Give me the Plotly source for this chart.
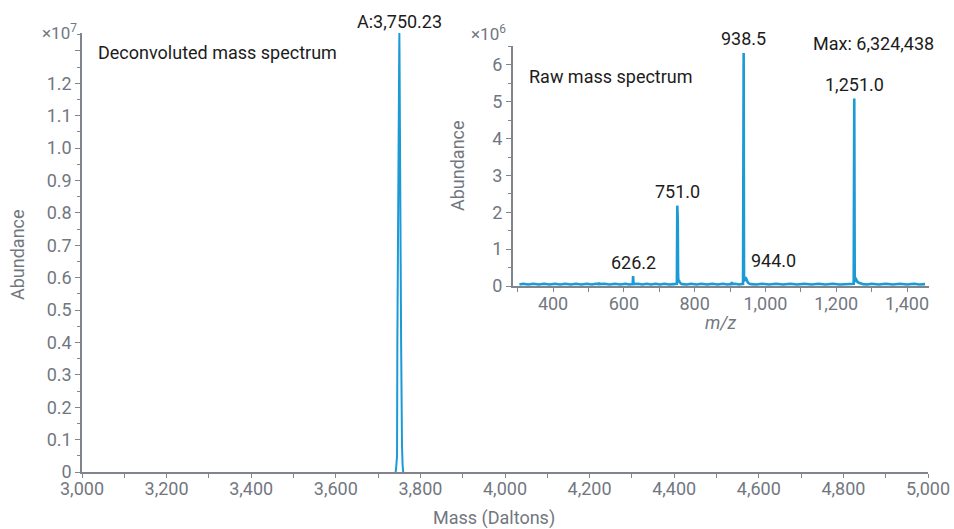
import plotly.graph_objects as go

# ---------------- data ----------------
# Deconvoluted spectrum (Mass in Daltons, abundance)
decon_mass = [3741.3, 3742.5, 3744.8, 3745.5, 3749.9, 3750.23, 3750.6, 3754.4, 3755.0, 3756.5, 3758.0, 3759.3]
decon_abund = [0, 1.0e5, 5.0e5, 4.0e6, 1.30e7, 1.355e7, 1.30e7, 4.0e6, 1.0e6, 8.0e5, 2.0e5, 0]

# Raw spectrum (m/z, abundance)
raw_mz = [305, 315, 330, 345, 360, 375, 390, 405, 420, 435, 450, 465, 480, 495, 510, 520, 528, 529.5, 531,
          545, 560, 575, 590, 605, 615, 625.0, 626.2, 627.4,
          640, 652, 665, 677, 690, 702, 715, 728, 740, 749.8, 751.0, 752.4, 753.2, 754.2, 755.5, 757.0, 759.0, 762.0, 766,
          778, 790, 805, 820, 835, 850, 865, 880, 892, 903.5, 905.0, 906.5, 915, 925, 936.8, 938.5, 939.6, 941.0, 942.5,
          944.0, 945.5, 947.5, 950.0, 953.0, 960, 975, 990, 1010, 1030, 1050, 1070, 1090, 1110, 1130, 1150, 1170,
          1190, 1210, 1230, 1249.4, 1251.0, 1252.3, 1253.5, 1255.0, 1257.0, 1260.0, 1264.0, 1270.0, 1276, 1288,
          1300, 1320, 1340, 1360, 1380, 1400, 1420, 1435, 1451]
raw_abund = [4e4, 6e4, 4e4, 6e4, 4e4, 6e4, 4e4, 6e4, 4e4, 6e4, 4e4, 6e4, 4e4, 6e4, 4e4, 6e4, 5e4, 9e4, 5e4,
             6e4, 4e4, 6e4, 4e4, 6e4, 4e4, 5e4, 2.7e5, 5e4,
             6e4, 4e4, 6e4, 4e4, 6e4, 4e4, 6e4, 4e4, 5e4, 6e4, 2.18e6, 1.75e6, 3.0e5, 1.2e5, 1.6e5, 1.1e5, 9e4, 6e4, 5e4,
             4e4, 6e4, 4e4, 6e4, 4e4, 6e4, 4e4, 6e4, 4e4, 5e4, 1.1e5, 5e4, 6e4, 4e4, 6e4, 6.324438e6, 1.2e5, 1.8e5, 2.2e5,
             2.4e5, 2.0e5, 1.4e5, 1.0e5, 7e4, 5e4, 4e4, 6e4, 4e4, 6e4, 4e4, 6e4, 4e4, 6e4, 4e4, 6e4, 4e4,
             6e4, 4e4, 6e4, 6e4, 5.09e6, 1.1e5, 1.9e5, 2.0e5, 1.5e5, 1.1e5, 9e4, 7e4, 5e4, 4e4,
             6e4, 4e4, 6e4, 4e4, 6e4, 4e4, 6e4, 4e4, 5e4]

main_yticks = [0, 1e6, 2e6, 3e6, 4e6, 5e6, 6e6, 7e6, 8e6, 9e6, 1e7, 1.1e7, 1.2e7, 1.3e7]
main_yticktext = ["0", "0.1", "0.2", "0.3", "0.4", "0.5", "0.6", "0.7", "0.8", "0.9", "1.0", "1.1", "1.2", ""]
main_xticks = [3000, 3200, 3400, 3600, 3800, 4000, 4200, 4400, 4600, 4800, 5000]
main_xticktext = ["3,000", "3,200", "3,400", "3,600", "3,800", "4,000", "4,200", "4,400", "4,600", "4,800", "5,000"]
inset_yticks = [0, 1e6, 2e6, 3e6, 4e6, 5e6, 6e6]
inset_yticktext = ["0", "1", "2", "3", "4", "5", "6"]
inset_xticks = [400, 600, 800, 1000, 1200, 1400]
inset_xticktext = ["400", "600", "800", "1,000", "1,200", "1,400"]

peak_labels_mz = [626.2, 751.0, 938.5, 1251.0]
peak_labels_ab = [2.7e5, 2.18e6, 6.324438e6, 5.09e6]
peak_labels_txt = ["626.2", "751.0", "938.5", "1,251.0"]
side_label_mz = 944.0
side_label_ab = 2.4e5
max_text = "Max: 6,324,438"
decon_label = "A:3,750.23"

# ---------------- styling ----------------
W, H = 954, 529
LINE = "#1b9ad6"
GRAY = "#72777f"
AXIS = "#80858c"
TXT = "#1c1c1c"
FONT = "Roboto"
FS = 18

def px(x):
    return x / W

def py(y):
    return 1 - y / H

fig = go.Figure()
fig.add_trace(go.Scatter(x=decon_mass, y=decon_abund, mode="lines",
                         line=dict(color=LINE, width=2), xaxis="x", yaxis="y",
                         hoverinfo="skip", showlegend=False))
fig.add_trace(go.Scatter(x=raw_mz, y=raw_abund, mode="lines",
                         line=dict(color=LINE, width=2.6), xaxis="x2", yaxis="y2",
                         hoverinfo="skip", showlegend=False))

axis_common = dict(showgrid=False, zeroline=False, showline=True, linecolor=AXIS, linewidth=1.5,
                   ticks="outside", tickcolor=AXIS, tickwidth=1.2, automargin=False,
                   tickfont=dict(family=FONT, size=FS, color=GRAY))

fig.update_layout(
    width=W, height=H, margin=dict(l=0, r=0, t=0, b=0, autoexpand=False),
    paper_bgcolor="white", plot_bgcolor="rgba(0,0,0,0)",
    font=dict(family=FONT, size=FS, color=GRAY),
    xaxis=dict(domain=[px(82), px(928)], range=[3000, 5000], anchor="y",
               tickmode="array", tickvals=main_xticks, ticktext=main_xticktext, ticklen=4,
               ticklabelstandoff=-4,
               minor=dict(tickmode="linear", tick0=3000, dtick=100, ticklen=4, ticks="outside", tickcolor=AXIS),
               **axis_common),
    yaxis=dict(domain=[py(472), py(33)], range=[0, 1.355e7], anchor="x",
               tickmode="array", tickvals=main_yticks, ticktext=main_yticktext, ticklen=5,
               minor=dict(tickmode="linear", tick0=0, dtick=5e5, ticklen=3, ticks="outside", tickcolor=AXIS),
               **axis_common),
    xaxis2=dict(domain=[px(512.7), px(929.3)], range=[286, 1463], anchor="y2",
                tickmode="array", tickvals=inset_xticks, ticktext=inset_xticktext, ticklen=4,
                ticklabelstandoff=-3,
                minor=dict(tickmode="linear", tick0=300, dtick=100, ticklen=4, ticks="outside", tickcolor=AXIS),
                **axis_common),
    yaxis2=dict(domain=[py(286), py(45.7)], range=[0, 6.52e6], anchor="x2",
                tickmode="array", tickvals=inset_yticks, ticktext=inset_yticktext, ticklen=5,
                minor=dict(tickmode="linear", tick0=0, dtick=5e5, ticklen=3, ticks="outside", tickcolor=AXIS),
                **axis_common),
)

def txt(text, x, y, color, size=FS, xanchor="center", angle=0):
    return dict(text=text, x=px(x), y=py(y), xref="paper", yref="paper", xanchor=xanchor,
                yanchor="middle", textangle=angle, showarrow=False,
                font=dict(family=FONT, size=size, color=color))

ann = [
    txt("Abundance", 18, 255, GRAY, angle=-90),
    txt("Mass (Daltons)", 494, 518, GRAY),
    txt("Abundance", 457, 166, GRAY, angle=-90),
    txt("<i>m/z</i>", 721, 323, GRAY),
    txt("×10<sup>7</sup>", 79, 32, GRAY, size=17, xanchor="right"),
    txt("×10<sup>6</sup>", 508, 33, GRAY, size=17, xanchor="right"),
    txt("Deconvoluted mass spectrum", 96, 53, TXT, xanchor="left"),
    txt("Raw mass spectrum", 527, 76, TXT, xanchor="left"),
    txt(max_text, 936, 43, TXT, xanchor="right"),
]
# peak labels
ann.append(dict(text=decon_label, x=3750.23, y=max(decon_abund), xref="x", yref="y",
                yanchor="middle", yshift=12, showarrow=False, font=dict(family=FONT, size=FS, color=TXT)))
for mz, ab, t in zip(peak_labels_mz, peak_labels_ab, peak_labels_txt):
    ann.append(dict(text=t, x=mz, y=ab, xref="x2", yref="y2", yanchor="middle", yshift=14,
                    showarrow=False, font=dict(family=FONT, size=FS, color=TXT)))
ann.append(dict(text="944.0", x=side_label_mz, y=side_label_ab, xref="x2", yref="y2",
                xanchor="left", yanchor="middle", xshift=3, yshift=17,
                showarrow=False, font=dict(family=FONT, size=FS, color=TXT)))

fig.update_layout(annotations=ann)
fig.write_html("out.html", config={"displayModeBar": False},
               post_script="document.body.style.margin='0';document.body.style.padding='0';")
